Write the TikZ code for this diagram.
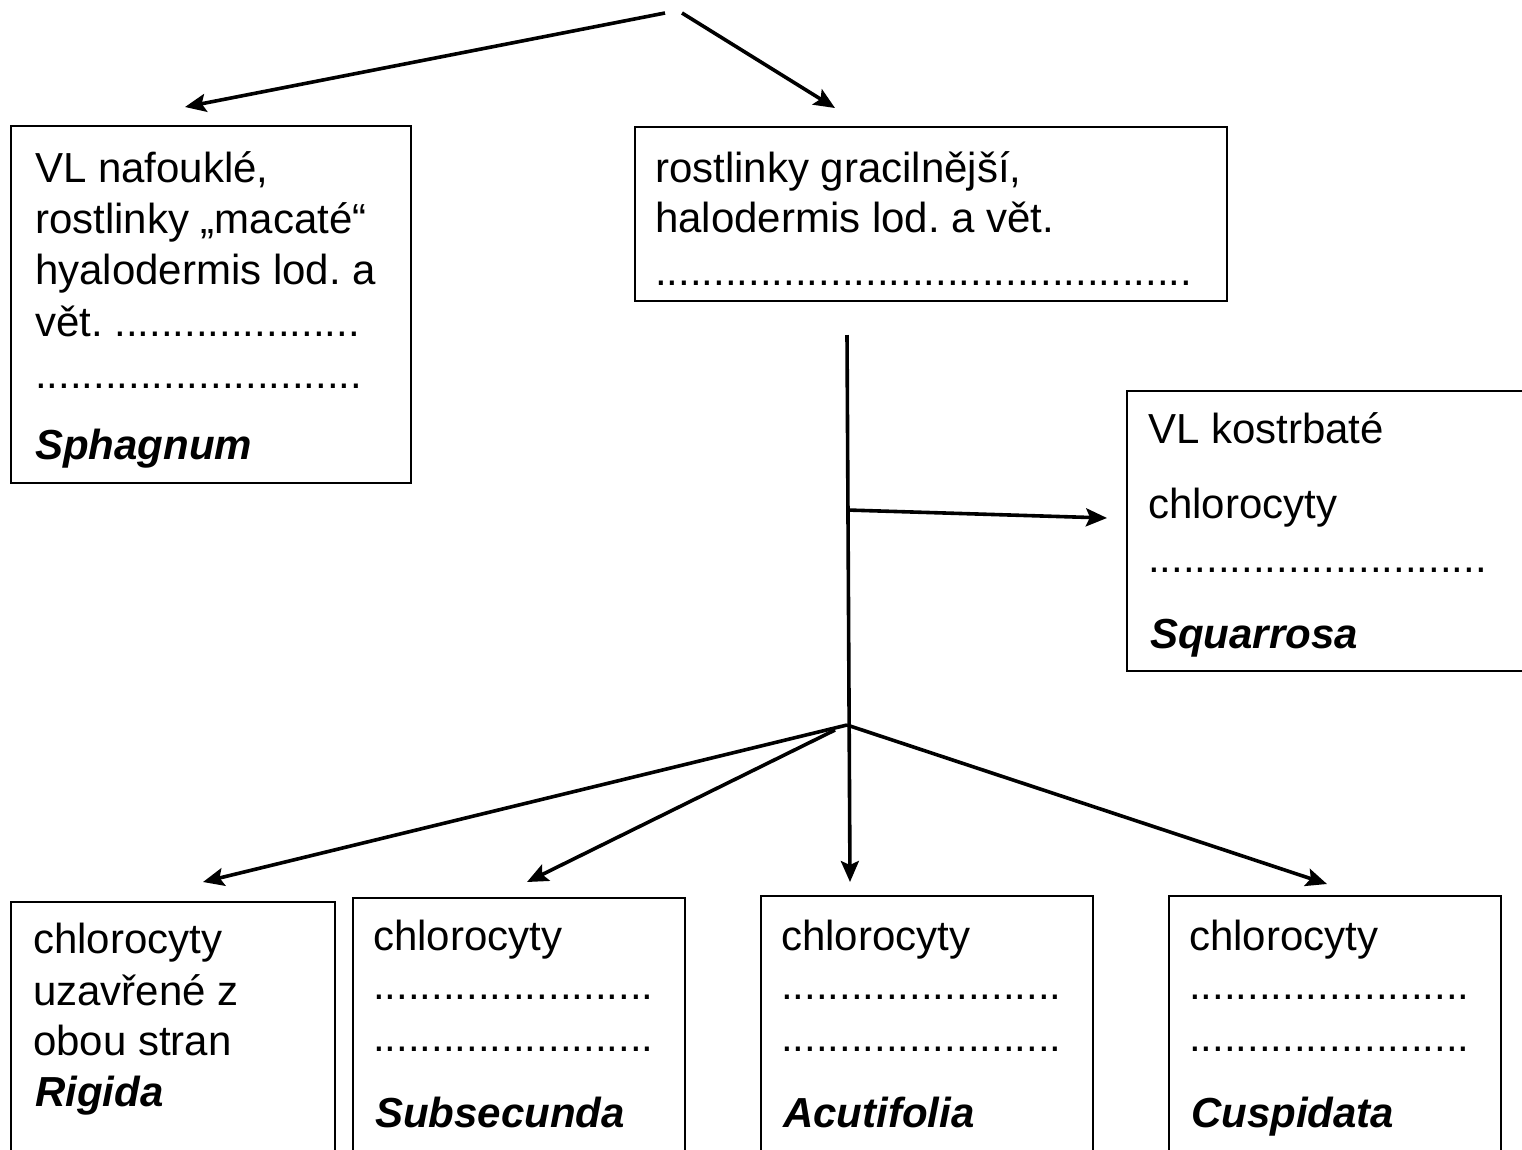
\documentclass[tikz,border=0pt]{standalone}
\usepackage{fontspec}
\setmainfont{Liberation Sans}
\usetikzlibrary{arrows.meta}
\frenchspacing
\begin{document}
\begin{tikzpicture}[x=1pt,y=-1pt,
  box/.style={draw, line width=2pt, rectangle, anchor=north west, inner sep=0pt},
  txt/.style={anchor=base west, inner sep=0pt, font=\fontsize{42}{50}\selectfont},
  taxon/.style={anchor=base west, inner sep=0pt, font=\fontsize{42}{50}\selectfont\bfseries\itshape},
  arr/.style={line width=3.6pt, -{Stealth[length=21pt,width=18pt,inset=4pt]}}]
\useasboundingbox (0,0) rectangle (1522,1149);
\clip (0,0) rectangle (1522,1149);
\fill[white] (0,0) rectangle (1522,1149);

% boxes
\node[box, minimum width=400pt, minimum height=357pt] (bL) at (10,125) {};
\node[box, minimum width=592pt, minimum height=174pt] (bM) at (634,126) {};
\node[box, minimum width=420pt, minimum height=280pt] (bR) at (1126,390) {};
\node[box, minimum width=324pt, minimum height=280pt] (b1) at (10,901) {};
\node[box, minimum width=332pt, minimum height=280pt] (b2) at (352,897) {};
\node[box, minimum width=332pt, minimum height=280pt] (b3) at (760,895) {};
\node[box, minimum width=332pt, minimum height=280pt] (b4) at (1168,895) {};

% left box text
\node[txt] (l1) at (35,182) {VL nafouklé,};
\node[txt] (l2) at (35,233) {rostlinky „macaté“};
\node[txt] (l3) at (35,284) {hyalodermis lod. a};
\node[txt] (l4) at (35,336) {vět. .....................};
\node[txt] (l5) at (35,388) {............................};
\node[taxon] (l6) at (35,459) {Sphagnum};

% middle box text
\node[txt] (m1) at (655,182) {rostlinky gracilnější,};
\node[txt] (m2) at (655,232) {halodermis lod. a vět.};
\node[txt] (m3) at (655,285) {..............................................};

% right box text
\node[txt] (r1) at (1148,443) {VL kostrbaté};
\node[txt] (r2) at (1148,518) {chlorocyty};
\node[txt] (r3) at (1148,572) {.............................};
\node[taxon] (r4) at (1150,648) {Squarrosa};

% bottom boxes text
\node[txt] (a1) at (33,953) {chlorocyty};
\node[txt] (a2) at (33,1005) {uzavřené z};
\node[txt] (a3) at (33,1055) {obou stran};
\node[taxon] (a4) at (35,1106) {Rigida};

\node[txt] (s1) at (373,950) {chlorocyty};
\node[txt] (s2) at (373,999) {........................};
\node[txt] (s3) at (373,1051) {........................};
\node[taxon] (s4) at (375,1127) {Subsecunda};

\node[txt] (c1) at (781,950) {chlorocyty};
\node[txt] (c2) at (781,999) {........................};
\node[txt] (c3) at (781,1051) {........................};
\node[taxon] (c4) at (783,1127) {Acutifolia};

\node[txt] (d1) at (1189,950) {chlorocyty};
\node[txt] (d2) at (1189,999) {........................};
\node[txt] (d3) at (1189,1051) {........................};
\node[taxon] (d4) at (1191,1127) {Cuspidata};

% connector points
\coordinate (t1) at (665,13);
\coordinate (t2) at (682,13);
\coordinate (tipL) at (185,107);
\coordinate (tipM) at (835,108);
\coordinate (vtop) at (847,335);
\coordinate (vbot) at (850,882);
\coordinate (br) at (847,510);
\coordinate (tipR) at (1107,518);
\coordinate (j) at (847,725);
\coordinate (j2) at (835,730);
\coordinate (tip1) at (203,882);
\coordinate (tip2) at (527,882);
\coordinate (tip4) at (1327,884);

\draw[arr] (t1) -- (tipL);
\draw[arr] (t2) -- (tipM);
\draw[arr] (vtop) -- (vbot);
\draw[arr] (br) -- (tipR);
\draw[arr] (j) -- (tip1);
\draw[arr] (j2) -- (tip2);
\draw[arr] (j) -- (tip4);
\end{tikzpicture}
\end{document}
